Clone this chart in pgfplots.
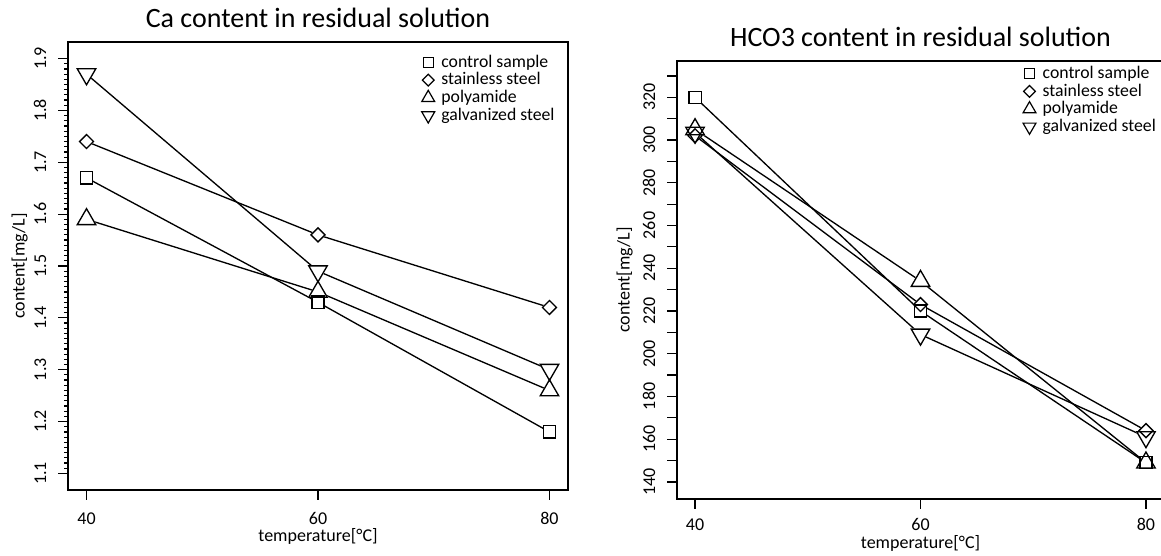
\documentclass[border=0pt]{standalone}
\usepackage{fontspec}
\setmainfont{Carlito}
\usepackage{pgfplots}
\usepackage{pgfplotstable}
\pgfplotsset{compat=1.18}

\pgfplotstableread{
T control stainless polyamide galvanized
40 1.67 1.74 1.59 1.87
60 1.43 1.56 1.45 1.49
80 1.18 1.42 1.26 1.30
}\catable
\pgfplotstableread{
T control stainless polyamide galvanized
40 320 302 305 303.5
60 220 223 234 209
80 149 164 149 161
}\hcotable

\pgfplotsset{
  rplot/.style={
    scale only axis,
    axis line style={line width=1.1pt, black},
    tick align=outside, xtick pos=bottom, ytick pos=left,
    major tick length=7.5pt,
    every tick/.style={line width=0.9pt, black},
    xtick={40,60,80}, xmin=38.4, xmax=81.6,
    /pgf/number format/assume math mode=true,
    ticklabel style={font=\fontsize{13.5pt}{16pt}\selectfont, inner sep=0pt},
    yticklabel style={anchor=base, rotate=90},
    yticklabel shift=9pt,
    every axis title/.style={font=\fontsize{21pt}{25pt}\selectfont, anchor=base},
    label style={font=\fontsize{13.5pt}{16pt}\selectfont, inner sep=0pt},
    xlabel={temperature[°C]}, ylabel={content[mg/L]},
    legend cell align=left,
    legend style={draw=none, fill=none, anchor=north west, inner sep=0pt,
      font=\fontsize{13.3pt}{15pt}\selectfont, row sep=1.3pt, column sep=5pt,
      nodes={inner sep=0pt, text height=9.5pt, text depth=2.5pt}},
    clip=false,
  },
  lin/.style={black, line width=1pt, no markers, forget plot},
  mfill/.style={only marks, forget plot, mark options={fill=white, draw=white, line width=1pt}},
  mline/.style={only marks, forget plot, mark options={draw=black, line width=1pt}},
  msq/.style={mark=#1, mark size=4.6pt},
  mdi/.style={mark=#1, mark size=3.7pt, every mark/.append style={rotate=45}},
  mtu/.style={mark=#1, mark size=8pt},
  mtd/.style={mark=#1, mark size=8pt, every mark/.append style={rotate=180}},
}

\begin{document}
\begin{tikzpicture}
\path[use as bounding box, clip] (0,0) rectangle (870.75pt,417pt);

% ---------------- Left panel ----------------
\begin{axis}[rplot,
  at={(51pt,49.5pt)}, anchor=south west,
  width=375pt, height=336pt,
  ymin=1.068, ymax=1.932,
  ytick={1.1,1.2,...,1.9},
  minor y tick num=9, minor tick length=3pt,
  yticklabel style={/pgf/number format/.cd, fixed, precision=1},
  xticklabel style={anchor=base, yshift=-18.4pt},
  title={Ca content in residual solution},
  title style={at={([yshift=10.5pt]axis description cs:0.5,1)}},
  xlabel style={at={([yshift=-39pt]axis description cs:0.5,0)}, anchor=base},
  ylabel style={at={([xshift=-32.6pt]axis description cs:0,0.5)}, anchor=base, rotate=0},
  legend style={at={(0.707,0.973)}},
]
\addplot[lin] table[x=T,y=control]{\catable};
\addplot[lin] table[x=T,y=stainless]{\catable};
\addplot[lin] table[x=T,y=polyamide]{\catable};
\addplot[lin] table[x=T,y=galvanized]{\catable};
\addplot[mfill,msq=square*] table[x=T,y=control]{\catable};
\addplot[mfill,mdi=square*] table[x=T,y=stainless]{\catable};
\addplot[mfill,mtu=triangle*] table[x=T,y=polyamide]{\catable};
\addplot[mfill,mtd=triangle*] table[x=T,y=galvanized]{\catable};
\addplot[mline,msq=square] table[x=T,y=control]{\catable};
\addplot[mline,mdi=square] table[x=T,y=stainless]{\catable};
\addplot[mline,mtu=triangle] table[x=T,y=polyamide]{\catable};
\addplot[mline,mtd=triangle] table[x=T,y=galvanized]{\catable};
\addlegendimage{only marks, mark=square, mark size=3.8pt, line width=0.9pt, black}
\addlegendentry{control sample}
\addlegendimage{only marks, mark=square, mark size=3.1pt, mark options={rotate=45}, line width=0.9pt, black}
\addlegendentry{stainless steel}
\addlegendimage{only marks, mark=triangle, mark size=5.6pt, line width=0.9pt, black}
\addlegendentry{polyamide}
\addlegendimage{only marks, mark=triangle, mark size=5.6pt, mark options={rotate=180}, line width=0.9pt, black}
\addlegendentry{galvanized steel}
\end{axis}

% ---------------- Right panel ----------------
\begin{axis}[rplot,
  at={(507.75pt,42.75pt)}, anchor=south west,
  width=365.25pt, height=328.5pt,
  ymin=132, ymax=337,
  ytick={140,160,...,320},
  minor ytick={150,170,...,330}, minor tick length=7.5pt,
  xticklabel style={anchor=base, yshift=-16.1pt},
  title={HCO3 content in residual solution},
  title style={at={([yshift=10.5pt]axis description cs:0.5,1)}},
  xlabel style={at={([yshift=-36.8pt]axis description cs:0.5,0)}, anchor=base},
  ylabel style={at={([xshift=-35.6pt]axis description cs:0,0.5)}, anchor=base, rotate=0},
  legend style={at={(0.71,0.99)}},
]
\addplot[lin] table[x=T,y=control]{\hcotable};
\addplot[lin] table[x=T,y=stainless]{\hcotable};
\addplot[lin] table[x=T,y=polyamide]{\hcotable};
\addplot[lin] table[x=T,y=galvanized]{\hcotable};
\addplot[mfill,msq=square*] table[x=T,y=control]{\hcotable};
\addplot[mfill,mdi=square*] table[x=T,y=stainless]{\hcotable};
\addplot[mfill,mtu=triangle*] table[x=T,y=polyamide]{\hcotable};
\addplot[mfill,mtd=triangle*] table[x=T,y=galvanized]{\hcotable};
\addplot[mline,msq=square] table[x=T,y=control]{\hcotable};
\addplot[mline,mdi=square] table[x=T,y=stainless]{\hcotable};
\addplot[mline,mtu=triangle] table[x=T,y=polyamide]{\hcotable};
\addplot[mline,mtd=triangle] table[x=T,y=galvanized]{\hcotable};
\addlegendimage{only marks, mark=square, mark size=3.8pt, line width=0.9pt, black}
\addlegendentry{control sample}
\addlegendimage{only marks, mark=square, mark size=3.1pt, mark options={rotate=45}, line width=0.9pt, black}
\addlegendentry{stainless steel}
\addlegendimage{only marks, mark=triangle, mark size=5.6pt, line width=0.9pt, black}
\addlegendentry{polyamide}
\addlegendimage{only marks, mark=triangle, mark size=5.6pt, mark options={rotate=180}, line width=0.9pt, black}
\addlegendentry{galvanized steel}
\end{axis}
\end{tikzpicture}
\end{document}
